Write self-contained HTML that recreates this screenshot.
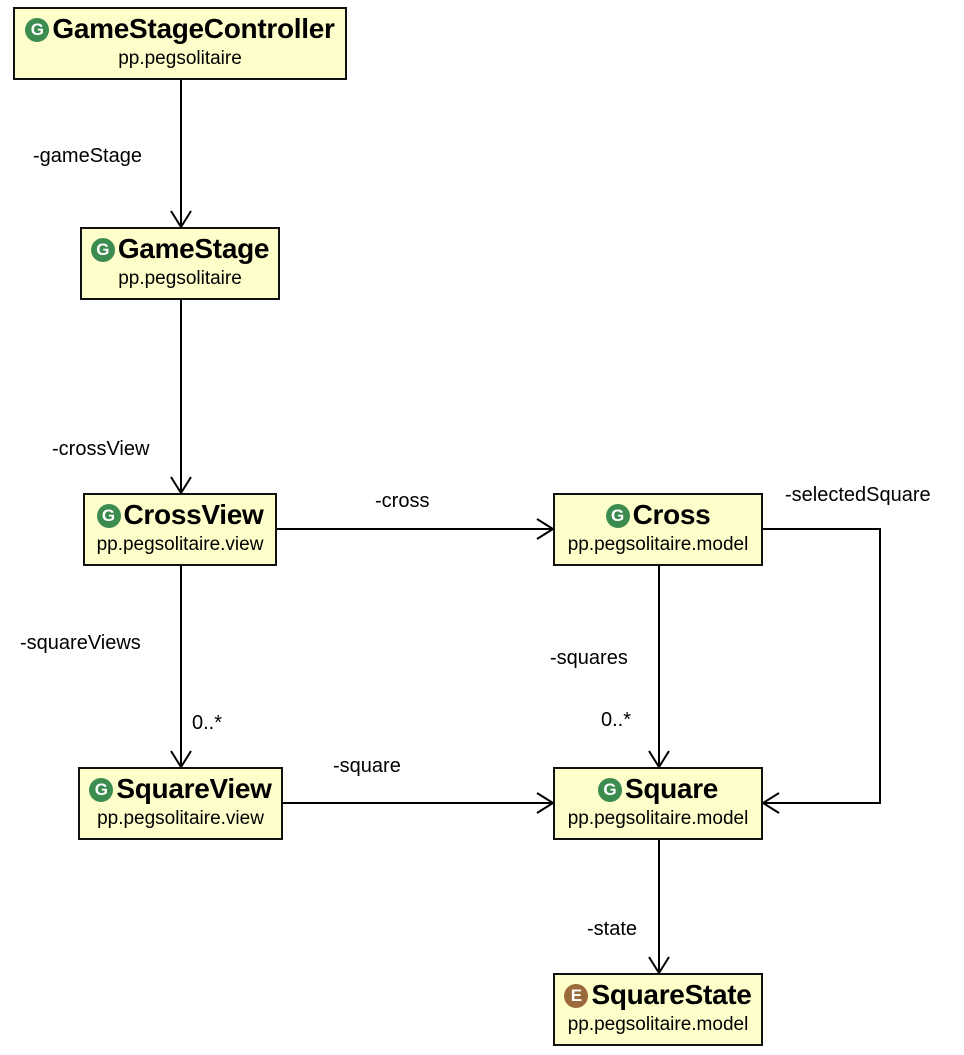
<!DOCTYPE html>
<html><head><style>
body{margin:0;width:964px;height:1055px;background:#fff;position:relative;font-family:"Liberation Sans",sans-serif;overflow:hidden}
.b{position:absolute;background:#fefecb;border:2px solid #111;box-sizing:border-box;text-align:center}
.t{font-weight:bold;font-size:28px;margin-top:4px;white-space:nowrap;line-height:32px;letter-spacing:-0.3px}
.s{font-size:19px;margin-top:2px;white-space:nowrap;line-height:24px}
.i{display:inline-block;width:24px;height:24px;border-radius:50%;background:#3c8c50;color:#fff;font-size:17px;line-height:24px;vertical-align:3px;margin-right:3px;text-align:center;letter-spacing:0}
.e{background:#9a6a3a}
.l{position:absolute;font-size:20px;white-space:nowrap}
svg{position:absolute;left:0;top:0}
</style></head><body>
<svg width="964" height="1055" fill="none" stroke="#000" stroke-width="2">
<path d="M181 80V227M171 211L181 227L191 211"/>
<path d="M181 300V493M171 477L181 493L191 477"/>
<path d="M181 566V767M171 751L181 767L191 751"/>
<path d="M277 529H553M537 519L553 529L537 539"/>
<path d="M283 803H553M537 793L553 803L537 813"/>
<path d="M659 566V767M649 751L659 767L669 751"/>
<path d="M659 840V973M649 957L659 973L669 957"/>
<path d="M763 529H880V803H763M779 793L763 803L779 813"/>
</svg>
<div class="b" style="left:13px;top:7px;width:334px;height:73px"><div class="t"><span class="i">G</span>GameStageController</div><div class="s">pp.pegsolitaire</div></div>
<div class="b" style="left:80px;top:227px;width:200px;height:73px"><div class="t"><span class="i">G</span>GameStage</div><div class="s">pp.pegsolitaire</div></div>
<div class="b" style="left:83px;top:493px;width:194px;height:73px"><div class="t"><span class="i">G</span>CrossView</div><div class="s">pp.pegsolitaire.view</div></div>
<div class="b" style="left:553px;top:493px;width:210px;height:73px"><div class="t"><span class="i">G</span>Cross</div><div class="s">pp.pegsolitaire.model</div></div>
<div class="b" style="left:78px;top:767px;width:205px;height:73px"><div class="t"><span class="i">G</span>SquareView</div><div class="s">pp.pegsolitaire.view</div></div>
<div class="b" style="left:553px;top:767px;width:210px;height:73px"><div class="t"><span class="i">G</span>Square</div><div class="s">pp.pegsolitaire.model</div></div>
<div class="b" style="left:553px;top:973px;width:210px;height:73px"><div class="t"><span class="i e">E</span>SquareState</div><div class="s">pp.pegsolitaire.model</div></div>
<div class="l" style="left:33px;top:145px">-gameStage</div>
<div class="l" style="left:52px;top:438px">-crossView</div>
<div class="l" style="left:375px;top:490px">-cross</div>
<div class="l" style="left:785px;top:484px">-selectedSquare</div>
<div class="l" style="left:20px;top:632px">-squareViews</div>
<div class="l" style="left:192px;top:712px">0..*</div>
<div class="l" style="left:550px;top:647px">-squares</div>
<div class="l" style="left:601px;top:709px">0..*</div>
<div class="l" style="left:333px;top:755px">-square</div>
<div class="l" style="left:587px;top:918px">-state</div>
</body></html>
